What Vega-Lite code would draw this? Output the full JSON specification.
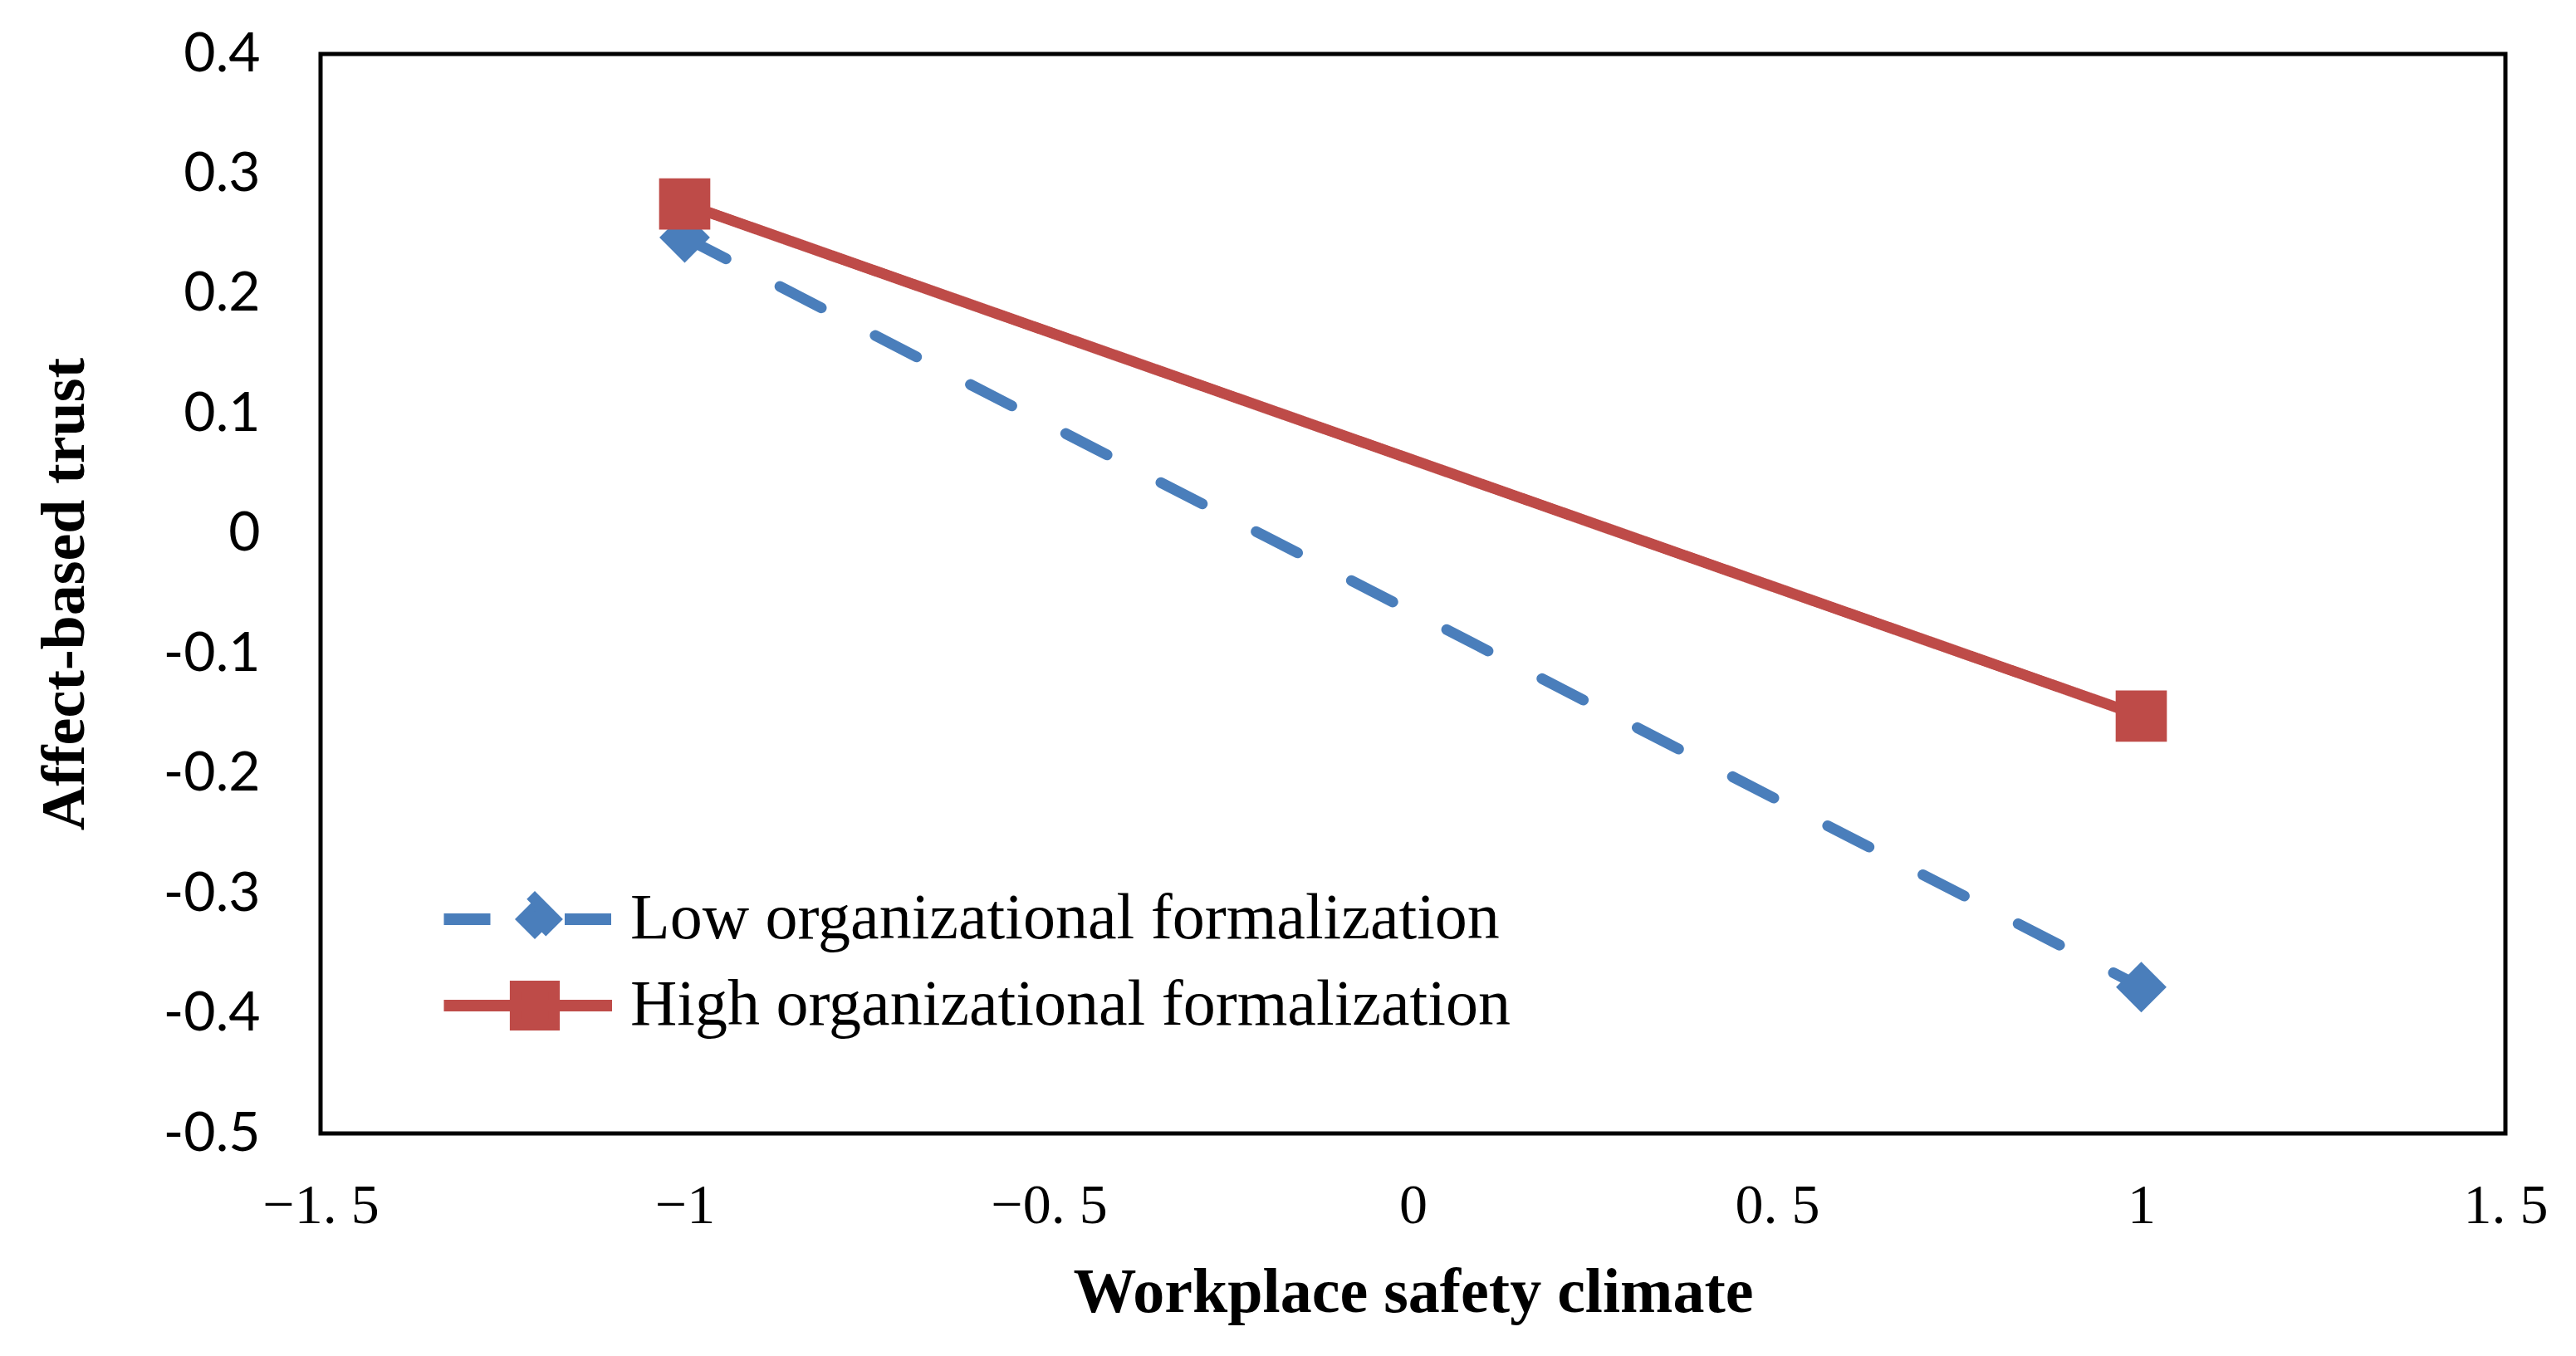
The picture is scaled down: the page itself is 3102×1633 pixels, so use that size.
{
  "$schema": "https://vega.github.io/schema/vega-lite/v6.json",
  "autosize": "none",
  "padding": {"left": 386, "top": 65, "right": 85, "bottom": 268},
  "width": 2631,
  "height": 1300,
  "background": "white",
  "data": {
    "values": [
      {"x": -1, "y": 0.247, "group": "Low organizational formalization"},
      {"x": 1, "y": -0.378, "group": "Low organizational formalization"},
      {"x": -1, "y": 0.275, "group": "High organizational formalization"},
      {"x": 1, "y": -0.152, "group": "High organizational formalization"}
    ]
  },
  "encoding": {
    "x": {
      "field": "x",
      "type": "quantitative",
      "title": "Workplace safety climate",
      "scale": {"domain": [-1.5, 1.5], "nice": false, "zero": false},
      "axis": {
        "values": [-1.5, -1, -0.5, 0, 0.5, 1, 1.5],
        "labelExpr": "replace(format(datum.value, '.1~f'), '.', '. ')",
        "labelFont": "Liberation Serif",
        "labelFontSize": 68,
        "labelColor": "black",
        "labelPadding": 53,
        "labelFlush": false,
        "labelOverlap": false,
        "titleFont": "Liberation Serif",
        "titleFontWeight": "bold",
        "titleFontSize": 76,
        "titleColor": "black",
        "titlePadding": 33,
        "domain": false,
        "ticks": false,
        "grid": false
      }
    },
    "y": {
      "field": "y",
      "type": "quantitative",
      "title": "Affect-based trust",
      "scale": {"domain": [-0.5, 0.4], "nice": false, "zero": false},
      "axis": {
        "values": [-0.5, -0.4, -0.3, -0.2, -0.1, 0, 0.1, 0.2, 0.3, 0.4],
        "labelExpr": "replace(format(datum.value, '.1~f'), '−', '-')",
        "labelFont": "Lato",
        "labelFontSize": 66,
        "labelColor": "black",
        "labelPadding": 73,
        "labelFlush": false,
        "labelOverlap": false,
        "titleFont": "Liberation Serif",
        "titleFontWeight": "bold",
        "titleFontSize": 74,
        "titleColor": "black",
        "titlePadding": 80,
        "domain": false,
        "ticks": false,
        "grid": false
      }
    },
    "color": {
      "field": "group",
      "type": "nominal",
      "scale": {
        "domain": ["Low organizational formalization", "High organizational formalization"],
        "range": ["#4A7EBB", "#BE4B48"]
      },
      "legend": {
        "title": null,
        "orient": "none",
        "legendX": 219,
        "legendY": 1003,
        "padding": 0,
        "symbolSize": 3600,
        "symbolStrokeWidth": 14,
        "symbolOpacity": 1,
        "labelOffset": 76,
        "rowPadding": 0,
        "labelFont": "Liberation Serif",
        "labelFontSize": 78,
        "labelColor": "black",
        "labelLimit": 2000
      }
    }
  },
  "layer": [
    {
      "mark": {"type": "line", "strokeWidth": 13, "strokeCap": "round"},
      "encoding": {
        "strokeDash": {
          "field": "group",
          "type": "nominal",
          "scale": {
            "domain": ["Low organizational formalization", "High organizational formalization"],
            "range": [[56, 73], [1, 0]]
          },
          "legend": null
        }
      }
    },
    {
      "transform": [{"filter": "datum.group === 'Low organizational formalization'"}],
      "mark": {"type": "point", "filled": true, "opacity": 1, "shape": "diamond", "size": 3700}
    },
    {
      "transform": [{"filter": "datum.group === 'High organizational formalization'"}],
      "mark": {"type": "point", "filled": true, "opacity": 1, "shape": "square", "size": 3800}
    },
    {
      "mark": {"type": "point", "filled": true, "opacity": 0},
      "encoding": {
        "shape": {
          "field": "group",
          "type": "nominal",
          "scale": {
            "domain": ["Low organizational formalization", "High organizational formalization"],
            "range": [
              "M-3.65,0L-1.2,0M1.2,0L3.1,0M0,-0.8L0.8,0L0,0.8L-0.8,0ZM0,-0.3L0.3,0L0,0.3L-0.3,0Z",
              "M-3.65,0L3.1,0M-0.77,-0.77L0.77,-0.77L0.77,0.77L-0.77,0.77ZM-0.3,-0.3L0.3,-0.3L0.3,0.3L-0.3,0.3Z"
            ]
          },
          "legend": {
            "title": null,
            "orient": "none",
            "legendX": 219,
            "legendY": 1003,
            "padding": 0,
            "symbolSize": 3600,
            "symbolStrokeWidth": 14,
            "symbolOpacity": 1,
            "labelOffset": 76,
            "rowPadding": 0,
            "labelFont": "Liberation Serif",
            "labelFontSize": 78,
            "labelColor": "black",
            "labelLimit": 2000
          }
        }
      }
    }
  ],
  "config": {
    "view": {"stroke": "black", "strokeWidth": 5}
  }
}
